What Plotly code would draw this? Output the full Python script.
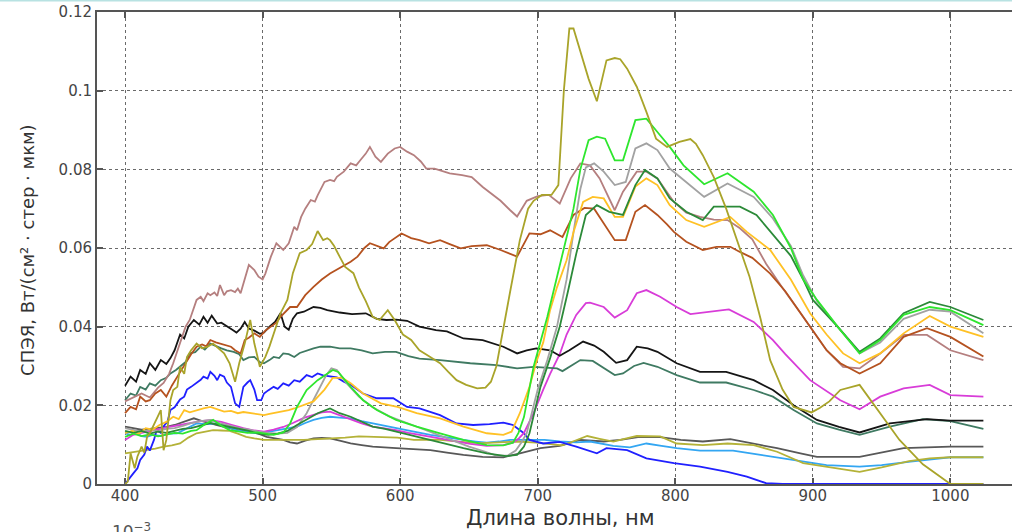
import plotly.graph_objects as go

# Spectral radiance curves: (wavelength nm, value) pairs per measured spectrum
BLACK = [(400,0.025),(404,0.0273),(408,0.026),(411,0.029),(415,0.028),(418,0.0307),(422,0.029),(426,0.0315),
         (430,0.0305),(433,0.032),(436,0.034),(440,0.038),(443,0.037),(446,0.040),(450,0.0417),(454,0.0405),
         (457,0.0425),(460,0.041),(463,0.0428),(467,0.0408),(470,0.041),(474,0.040),(478,0.0392),(481,0.0385),
         (484,0.0395),(487,0.0412),(490,0.0395),(494,0.039),(498,0.0382),(501,0.0385),(505,0.040),(509,0.0412),
         (513,0.0434),(516,0.040),(519,0.0392),(522,0.042),(525,0.0434),(530,0.0438),(537,0.045),(542,0.0448),
         (547,0.0442),(556,0.0436),(565,0.0432),(575,0.0434),(583,0.042),(590,0.0417),(597,0.0418),(605,0.0415),
         (614,0.040),(626,0.0391),(634,0.0388),(646,0.037),(660,0.0366),(675,0.0349),(685,0.0332),(692,0.034),
         (699,0.0345),(709,0.034),(716,0.0326),(723,0.034),(733,0.0362),(741,0.0352),(748,0.0336),(757,0.0308),
         (765,0.0315),(772,0.0349),(780,0.0345),(787,0.0336),(801,0.0307),(818,0.0285),(837,0.0285),(857,0.0264),
         (871,0.0239),(886,0.020),(903,0.0163),(919,0.0145),(934,0.0131),(956,0.0154),(983,0.0165),(1000,0.0161),
         (1024,0.0161)]

TEAL = [(400,0.0213),(404,0.023),(408,0.0225),(411,0.0247),(415,0.024),(418,0.0256),(422,0.025),(426,0.0264),
        (430,0.027),(433,0.0281),(437,0.029),(440,0.0298),(444,0.031),(447,0.0332),(451,0.0335),(455,0.0349),
        (458,0.0342),(462,0.0357),(466,0.035),(470,0.0345),(474,0.034),(479,0.0336),(483,0.033),(486,0.0315),
        (490,0.0322),(494,0.0323),(498,0.031),(501,0.0307),(505,0.0315),(508,0.0323),(512,0.032),(515,0.0332),
        (519,0.033),(523,0.0323),(527,0.0333),(532,0.034),(537,0.0345),(542,0.0349),(549,0.0349),(556,0.0345),
        (564,0.0345),(572,0.034),(580,0.0332),(589,0.0336),(597,0.0336),(606,0.0325),(614,0.0319),(629,0.0315),
        (651,0.0307),(670,0.0302),(685,0.0294),(697,0.0298),(714,0.0294),(718,0.0287),(724,0.030),(731,0.0315),
        (740,0.0313),(748,0.0295),(756,0.0277),(762,0.0281),(770,0.030),(777,0.0308),(787,0.0298),(801,0.0277),
        (818,0.0258),(837,0.0258),(857,0.0239),(871,0.0222),(886,0.0188),(903,0.0154),(919,0.0138),(934,0.0125),
        (956,0.0146),(980,0.0165),(1000,0.016),(1024,0.014)]

BROWN = [(400,0.018),(404,0.0196),(408,0.019),(411,0.0222),(415,0.021),(418,0.0213),(422,0.023),(426,0.0239),
         (430,0.0222),(434,0.025),(438,0.0273),(441,0.029),(445,0.0315),(448,0.033),(452,0.0349),(456,0.0355),
         (459,0.035),(462,0.0366),(466,0.036),(469,0.0357),(473,0.0352),(477,0.0349),(480,0.034),(484,0.0332),
         (487,0.0366),(490,0.0372),(494,0.0383),(498,0.0374),(502,0.039),(506,0.040),(510,0.041),(513,0.0425),
         (517,0.044),(520,0.045),(525,0.045),(531,0.048),(537,0.0501),(543,0.052),(549,0.0535),(554,0.0545),
         (559,0.0557),(564,0.0565),(569,0.0578),(574,0.060),(578,0.0612),(583,0.0605),(588,0.0599),(592,0.0615),
         (597,0.0628),(601,0.0637),(608,0.0625),(614,0.062),(621,0.0612),(629,0.062),(636,0.061),(644,0.0599),
         (652,0.0605),(663,0.0607),(673,0.0595),(685,0.0578),(694,0.0637),(702,0.0635),(709,0.0645),(718,0.0628),
         (726,0.0684),(734,0.0702),(741,0.070),(750,0.0654),(756,0.062),(764,0.062),(771,0.0692),(778,0.0709),
         (787,0.0684),(794,0.066),(799,0.0641),(808,0.0616),(820,0.0595),(830,0.0603),(840,0.0603),(847,0.059),
         (856,0.0575),(869,0.0535),(880,0.049),(890,0.044),(898,0.040),(910,0.034),(920,0.0307),(934,0.0281),
         (949,0.0307),(966,0.0374),(983,0.0396),(1000,0.0374),(1024,0.0324)]

ROSY = [(400,0.021),(406,0.022),(412,0.023),(418,0.022),(424,0.0245),(428,0.0257),(432,0.028),(435,0.0307),
        (440,0.036),(444,0.040),(447,0.0417),(450,0.045),(452,0.0468),(455,0.0476),(457,0.0465),(460,0.0485),
        (462,0.048),(465,0.0487),(467,0.0478),(469,0.0506),(472,0.048),(474,0.049),(477,0.0493),(480,0.0488),
        (482,0.0497),(484,0.0485),(486,0.051),(490,0.0557),(494,0.0544),(497,0.0527),(500,0.052),(502,0.0535),
        (506,0.0578),(510,0.0612),(515,0.0595),(519,0.0612),(523,0.0654),(525,0.0645),(528,0.0679),(531,0.070),
        (535,0.0722),(538,0.0718),(540,0.0734),(545,0.0768),(549,0.0773),(552,0.077),(554,0.0781),(559,0.0794),
        (564,0.0815),(568,0.081),(571,0.0823),(575,0.084),(578,0.0857),(582,0.0832),(586,0.0819),(591,0.084),
        (596,0.0853),(600,0.0857),(605,0.0845),(610,0.0836),(615,0.082),(619,0.0802),(625,0.0802),(629,0.0798),
        (636,0.079),(645,0.0785),(652,0.078),(660,0.0755),(667,0.0735),(673,0.072),(680,0.0696),(685,0.068),
        (692,0.072),(700,0.0732),(708,0.0735),(716,0.0713),(724,0.0777),(731,0.0815),(738,0.081),(745,0.0777),
        (756,0.0696),(762,0.0743),(772,0.0794),(779,0.0794),(787,0.0777),(799,0.0717),(808,0.069),(818,0.0679),
        (828,0.0672),(838,0.0671),(847,0.065),(856,0.0622),(866,0.056),(879,0.0493),(890,0.044),(898,0.040),
        (910,0.034),(922,0.0298),(934,0.0294),(949,0.0332),(966,0.0379),(983,0.0379),(1000,0.034),(1024,0.0315)]

OLIVE = [(400,0.0),(402,0.0006),(404,0.0078),(407,0.004),(409,0.007),(412,0.0095),(414,0.008),(416,0.012),
         (418,0.0129),(421,0.015),(423,0.0163),(426,0.0188),(428,0.0086),(430,0.0112),(433,0.0213),(435,0.0239),
         (438,0.0247),(440,0.0298),(443,0.028),(445,0.0323),(448,0.034),(452,0.0357),(456,0.0345),(460,0.0349),
         (464,0.0357),(468,0.0345),(472,0.0332),(476,0.0307),(480,0.026),(483,0.0307),(487,0.0357),(491,0.0417),
         (494,0.0357),(498,0.0298),(502,0.0323),(505,0.035),(508,0.0383),(513,0.0434),(518,0.0468),(522,0.0536),
         (527,0.0587),(532,0.0595),(536,0.061),(540,0.0643),(544,0.062),(547,0.0625),(549,0.062),(552,0.0605),
         (556,0.0578),(560,0.0552),(566,0.0536),(570,0.050),(575,0.0465),(580,0.0425),(585,0.0417),(591,0.0442),
         (596,0.0417),(602,0.038),(608,0.0366),(614,0.034),(621,0.0325),(629,0.0307),(635,0.0285),(641,0.0264),
         (648,0.0252),(656,0.0243),(662,0.0245),(666,0.026),(670,0.030),(675,0.040),(680,0.049),(687,0.062),
         (693,0.070),(697,0.072),(703,0.0735),(710,0.0735),(715,0.076),(719,0.100),(723,0.1158),(726,0.1158),
         (730,0.111),(737,0.103),(743,0.0973),(750,0.1077),(756,0.1083),(760,0.108),(765,0.1056),(772,0.101),
         (779,0.0946),(786,0.0878),(794,0.0857),(803,0.087),(811,0.0877),(815,0.0865),(820,0.0836),(828,0.078),
         (837,0.070),(847,0.060),(854,0.0527),(862,0.042),(869,0.0315),(878,0.024),(886,0.0196),(899,0.0182),
         (905,0.0193),(912,0.021),(920,0.0239),(934,0.0252),(945,0.020),(963,0.0112),(980,0.005),(1000,0.0),
         (1024,0.0)]

OLIVE_LOW = [(400,0.0078),(404,0.008),(410,0.0083),(416,0.0086),(422,0.009),(428,0.0095),(434,0.0098),(440,0.0103),
             (446,0.0118),(452,0.0129),(458,0.0133),(464,0.0137),(470,0.0136),(476,0.0135),(482,0.0128),(488,0.012),
             (494,0.0116),(501,0.0112),(508,0.0112),(515,0.0112),(522,0.0113),(530,0.0112),(540,0.0114),(549,0.0115),
             (560,0.0118),(570,0.0121),(580,0.012),(590,0.0119),(598,0.0118),(610,0.0112),(620,0.0113),(629,0.0112),
             (640,0.0108),(651,0.0105),(660,0.0104),(670,0.0105),(685,0.0108),(699,0.0105),(710,0.0102),(718,0.0098),
             (727,0.011),(736,0.0122),(745,0.0115),(755,0.0108),(763,0.0115),(772,0.0122),(789,0.0121),(801,0.0103),
             (820,0.0099),(838,0.0103),(857,0.0099),(874,0.0082),(893,0.0053),(912,0.0042),(934,0.0031),(950,0.0042),
             (970,0.0058),(985,0.0065),(1000,0.0068),(1024,0.0068)]

DARK_GRAY = [(400,0.0146),(406,0.0142),(412,0.0138),(418,0.014),(424,0.0143),(430,0.0145),(436,0.015),(442,0.0158),
             (450,0.0167),(456,0.016),(462,0.0154),(469,0.0148),(476,0.0142),(483,0.0136),(490,0.0132),(496,0.0129),
             (503,0.012),(509,0.0116),(515,0.0112),(520,0.0106),(525,0.0103),(531,0.011),(537,0.0116),(543,0.0117),
             (549,0.0116),(556,0.011),(564,0.0103),(572,0.0099),(580,0.0095),(597,0.0091),(610,0.0089),(622,0.0086),
             (634,0.008),(646,0.0074),(660,0.0069),(675,0.0068),(687,0.0078),(702,0.0091),(716,0.0097),(731,0.0112),
             (748,0.0108),(760,0.0112),(774,0.012),(789,0.0119),(804,0.0112),(820,0.0108),(840,0.0114),(857,0.0103),
             (874,0.0091),(891,0.0078),(903,0.0069),(934,0.0069),(966,0.0091),(1000,0.0095),(1024,0.0095)]

LIGHT_BLUE = [(400,0.0129),(404,0.0125),(408,0.013),(412,0.0122),(416,0.012),(420,0.0125),(426,0.0122),(432,0.0128),
              (438,0.0129),(444,0.014),(452,0.0154),(459,0.0152),(467,0.0154),(474,0.0146),(481,0.0137),(488,0.0133),
              (496,0.0129),(503,0.0132),(510,0.0137),(517,0.0141),(525,0.0146),(531,0.0155),(537,0.0163),(543,0.0168),
              (549,0.0171),(556,0.0169),(564,0.0167),(572,0.016),(580,0.0154),(590,0.0148),(597,0.0142),(610,0.0133),
              (622,0.0125),(634,0.0118),(646,0.0112),(655,0.0108),(663,0.0105),(672,0.0108),(680,0.0112),(694,0.0112),
              (705,0.0112),(716,0.0108),(728,0.0106),(738,0.0108),(746,0.0103),(755,0.0097),(767,0.0093),(779,0.0103),
              (790,0.0097),(801,0.0091),(818,0.0085),(842,0.0085),(862,0.0074),(878,0.0065),(891,0.0057),(910,0.0048),
              (934,0.0044),(950,0.0048),(971,0.0057),(1000,0.0068),(1024,0.0068)]

BLUE = [(400,0.0),(403,0.0015),(406,0.0027),(409,0.004),(411,0.0061),(414,0.0075),(416,0.0095),(418,0.0085),
        (421,0.0112),(423,0.0137),(426,0.013),(428,0.0146),(431,0.016),(433,0.0188),(436,0.0195),(438,0.0205),
        (440,0.0215),(443,0.0222),(445,0.024),(448,0.0247),(450,0.0252),(452,0.0256),(455,0.0265),(457,0.0273),
        (460,0.0268),(462,0.0285),(465,0.0275),(467,0.0264),(469,0.0278),(472,0.0273),(474,0.0258),(477,0.0247),
        (480,0.0205),(483,0.0196),(486,0.0247),(489,0.0258),(491,0.0264),(494,0.024),(496,0.0213),(499,0.0213),
        (501,0.023),(504,0.0238),(508,0.0247),(511,0.0242),(515,0.0256),(519,0.025),(523,0.0264),(527,0.026),
        (532,0.0277),(536,0.0272),(540,0.0281),(544,0.0276),(549,0.0273),(554,0.0271),(559,0.026),(564,0.0252),
        (573,0.023),(583,0.0218),(595,0.0218),(605,0.0196),(614,0.0192),(629,0.0175),(641,0.0154),(653,0.015),
        (665,0.0152),(675,0.0156),(682,0.015),(690,0.0129),(694,0.0112),(704,0.0103),(716,0.0107),(728,0.0095),
        (743,0.0078),(750,0.0091),(765,0.0086),(779,0.0065),(799,0.0053),(818,0.0044),(838,0.0031),(852,0.0019),
        (866,0.0002),(878,0.0),(950,0.0),(1024,0.0)]

MAGENTA = [(400,0.0112),(406,0.0125),(412,0.013),(418,0.0135),(425,0.014),(432,0.0145),(440,0.015),(448,0.0155),
           (455,0.016),(462,0.0162),(470,0.0158),(478,0.015),(486,0.0142),(494,0.0136),(501,0.0133),(508,0.0138),
           (515,0.0145),(522,0.0155),(530,0.0168),(537,0.0176),(543,0.0182),(549,0.0184),(556,0.0175),(564,0.0163),
           (572,0.0154),(580,0.0146),(589,0.0141),(597,0.0137),(606,0.013),(614,0.0125),(624,0.0118),(634,0.0112),
           (643,0.0106),(651,0.0102),(663,0.0097),(675,0.0099),(682,0.0105),(686,0.0115),(690,0.013),(697,0.018),
           (704,0.024),(709,0.028),(716,0.033),(721,0.038),(728,0.043),(735,0.046),(738,0.0461),(748,0.045),
           (756,0.0423),(765,0.0442),(772,0.0485),(779,0.0493),(789,0.0476),(801,0.045),(811,0.0432),(825,0.0438),
           (839,0.0444),(857,0.0412),(871,0.0366),(880,0.033),(891,0.029),(898,0.0264),(920,0.0213),(934,0.019),
           (949,0.0222),(966,0.0243),(985,0.0252),(1000,0.0226),(1024,0.0222)]

GREEN = [(400,0.012),(406,0.0128),(412,0.0122),(418,0.0126),(424,0.0121),(430,0.0125),(436,0.013),(442,0.0128),
         (448,0.0135),(452,0.0137),(458,0.0152),(464,0.0163),(470,0.0148),(476,0.0137),(482,0.0134),(489,0.013),
         (496,0.0131),(503,0.0128),(508,0.0125),(515,0.0131),(520,0.0154),(525,0.0196),(532,0.0239),(540,0.0264),
         (547,0.0281),(551,0.029),(555,0.0285),(564,0.0247),(573,0.0213),(583,0.0188),(597,0.0163),(612,0.0146),
         (629,0.0129),(646,0.0112),(663,0.0099),(675,0.0098),(682,0.0105),(686,0.013),(690,0.017),(697,0.0298),
         (707,0.0425),(716,0.0552),(721,0.063),(726,0.070),(731,0.080),(737,0.0874),(743,0.0883),(749,0.0878),
         (756,0.0823),(762,0.0823),(771,0.0925),(779,0.0929),(787,0.0895),(796,0.0857),(806,0.081),(821,0.0762),
         (838,0.079),(857,0.0743),(871,0.0684),(884,0.060),(893,0.052),(903,0.0468),(918,0.040),(934,0.0332),
         (949,0.0366),(966,0.043),(985,0.045),(1000,0.0442),(1024,0.0404)]

DARK_GREEN = [(400,0.0135),(406,0.013),(412,0.0135),(418,0.0128),(424,0.0133),(430,0.013),(436,0.0135),(442,0.014),
              (448,0.0142),(455,0.0148),(462,0.0155),(469,0.015),(476,0.0145),(483,0.014),(490,0.0135),(497,0.0128),
              (504,0.0125),(511,0.0128),(518,0.0135),(525,0.015),(532,0.0165),(540,0.018),(549,0.0192),(556,0.018),
              (564,0.0171),(572,0.0158),(580,0.0146),(589,0.014),(597,0.0133),(610,0.0122),(622,0.0112),(634,0.0102),
              (646,0.0091),(663,0.0078),(677,0.0071),(685,0.0074),(690,0.0095),(694,0.0129),(702,0.0247),(709,0.032),
              (716,0.040),(722,0.049),(728,0.0585),(735,0.0684),(743,0.0709),(752,0.0692),(762,0.0684),(771,0.076),
              (778,0.0798),(787,0.0777),(796,0.0726),(808,0.0692),(820,0.0671),(828,0.0705),(847,0.0705),(859,0.0684),
              (871,0.0633),(884,0.058),(893,0.052),(900,0.0468),(918,0.040),(934,0.0336),(949,0.037),(966,0.0434),
              (985,0.0463),(1000,0.045),(1024,0.0417)]

YELLOW = [(400,0.0129),(405,0.0135),(410,0.0128),(415,0.0142),(420,0.0138),(425,0.015),(430,0.0158),(435,0.0171),
          (439,0.0165),(443,0.0188),(447,0.0182),(452,0.0188),(457,0.0192),(462,0.0196),(467,0.019),(472,0.0184),
          (477,0.0186),(482,0.018),(486,0.0183),(491,0.018),(496,0.0178),(501,0.0175),(505,0.0178),(508,0.018),
          (512,0.0182),(515,0.0184),(519,0.0188),(523,0.0192),(530,0.020),(537,0.021),(545,0.024),(551,0.027),
          (558,0.027),(564,0.0256),(573,0.023),(586,0.0205),(598,0.0196),(612,0.018),(629,0.0167),(646,0.0146),
          (663,0.0129),(675,0.0125),(681,0.0133),(687,0.018),(694,0.0247),(699,0.031),(704,0.036),(709,0.0442),
          (714,0.050),(721,0.0569),(726,0.064),(733,0.0717),(740,0.073),(748,0.0726),(756,0.0679),(762,0.0679),
          (771,0.0756),(779,0.0777),(787,0.076),(796,0.0709),(808,0.0671),(821,0.0654),(840,0.0679),(852,0.0641),
          (869,0.0595),(884,0.052),(898,0.0434),(910,0.038),(922,0.0332),(934,0.0307),(949,0.0332),(966,0.0383),
          (985,0.0427),(1000,0.040),(1024,0.0374)]

GRAY = [(400,0.0142),(406,0.0138),(412,0.0133),(418,0.0137),(424,0.0135),(430,0.014),(436,0.0142),(442,0.0148),
        (448,0.0155),(455,0.016),(462,0.0163),(469,0.0155),(476,0.0148),(483,0.0142),(490,0.0138),(497,0.0133),
        (504,0.013),(511,0.0128),(518,0.013),(525,0.0145),(532,0.018),(540,0.0235),(546,0.0275),(550,0.0294),
        (554,0.029),(560,0.026),(570,0.0222),(580,0.0195),(592,0.0172),(605,0.0155),(620,0.0135),(635,0.0115),
        (650,0.0095),(662,0.0082),(670,0.0072),(678,0.0072),(684,0.0085),(688,0.0105),(692,0.0129),(700,0.024),
        (707,0.0315),(714,0.040),(721,0.052),(726,0.064),(731,0.075),(735,0.0805),(741,0.0815),(748,0.0794),
        (756,0.076),(764,0.0768),(771,0.0853),(779,0.0866),(787,0.0849),(796,0.0802),(808,0.0768),(821,0.073),
        (838,0.0764),(857,0.073),(871,0.0675),(884,0.0605),(893,0.053),(903,0.0465),(918,0.040),(934,0.0332),
        (949,0.036),(966,0.042),(985,0.0443),(1000,0.0438),(1024,0.0383)]

# drawing order: first listed is drawn underneath
SERIES = [
    (DARK_GRAY, "#585858"),
    (LIGHT_BLUE, "#33a6f2"),
    (OLIVE_LOW, "#b4b238"),
    (BLUE, "#2020ff"),
    (MAGENTA, "#d83cd8"),
    (TEAL, "#3f7a62"),
    (BLACK, "#151515"),
    (ROSY, "#b57f7f"),
    (BROWN, "#b5521f"),
    (GRAY, "#a2a2a2"),
    (YELLOW, "#ffc125"),
    (DARK_GREEN, "#2b8a38"),
    (GREEN, "#2ee62e"),
    (OLIVE, "#a9a42a"),
]

X_TICKS = [400, 500, 600, 700, 800, 900, 1000]
Y_TICKS = [0, 0.02, 0.04, 0.06, 0.08, 0.1, 0.12]
Y_TICK_TEXT = ["0", "0.02", "0.04", "0.06", "0.08", "0.1", "0.12"]

fig = go.Figure()
for pts, color in SERIES:
    fig.add_trace(go.Scatter(
        x=[p[0] for p in pts], y=[p[1] for p in pts],
        mode="lines", line=dict(color=color, width=1.8),
        showlegend=False, hoverinfo="skip"))

tick_font = dict(family="DejaVu Sans", size=15, color="#444444")
fig.update_layout(
    width=1012, height=532,
    margin=dict(l=97, r=0, t=12, b=48),
    paper_bgcolor="white", plot_bgcolor="white",
    xaxis=dict(range=[379.6, 1044.8], tickvals=X_TICKS, showgrid=True,
               gridcolor="#6a6a6a", griddash="dot", gridwidth=1,
               showline=True, linecolor="#555555", linewidth=2, mirror="ticks",
               ticks="inside", ticklen=6, tickcolor="#555555", tickwidth=1.5,
               tickfont=tick_font, ticklabelstandoff=-3,
               zeroline=False, layer="below traces"),
    yaxis=dict(range=[0, 0.12], tickvals=Y_TICKS, ticktext=Y_TICK_TEXT, showgrid=True,
               gridcolor="#6a6a6a", griddash="dot", gridwidth=1,
               showline=True, linecolor="#555555", linewidth=2,
               ticks="inside", ticklen=6, tickcolor="#555555", tickwidth=1.5,
               tickfont=tick_font, zeroline=False, layer="below traces"),
    annotations=[
        dict(text="Длина волны, нм", xref="paper", yref="paper",
             x=0.507, y=-0.073, xanchor="center", yanchor="middle", showarrow=False,
             font=dict(family="DejaVu Sans", size=21, color="#333333")),
        dict(text="СПЭЯ, Вт/(см² · стер · мкм)", xref="paper", yref="paper",
             x=-0.0754, y=0.496, xanchor="center", yanchor="middle", showarrow=False,
             textangle=-90, font=dict(family="DejaVu Sans", size=18, color="#333333")),
        dict(text="10<sup>−3</sup>", xref="paper", yref="paper",
             x=0.014, y=-0.072, xanchor="left", yanchor="top", showarrow=False,
             font=dict(family="DejaVu Sans", size=17, color="#555555")),
    ],
    shapes=[
        dict(type="line", xref="paper", yref="paper", x0=-0.2, x1=1.2,
             y0=1.0244, y1=1.0244, line=dict(color="#b8e2e2", width=2)),
    ],
)

fig.write_html("out.html")
